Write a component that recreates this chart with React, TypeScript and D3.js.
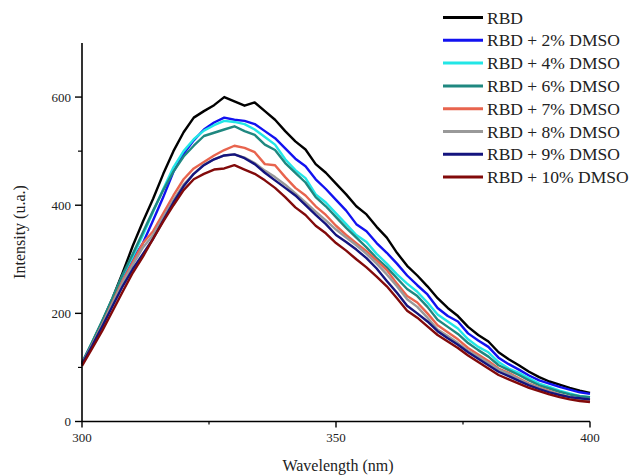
import React from "react";
import * as d3 from "d3";

const wavelengths: number[] = d3.range(300, 401, 2);

const seriesNames: string[] = [
  "RBD",
  "RBD + 2% DMSO",
  "RBD + 4% DMSO",
  "RBD + 6% DMSO",
  "RBD + 7% DMSO",
  "RBD + 8% DMSO",
  "RBD + 9% DMSO",
  "RBD + 10% DMSO",
];

const rbd: number[] = [108,145,185,228,275,325,370,412,458,500,535,562,574,585,600,592,584,590,574,558,537,518,503,476,460,440,420,398,383,360,340,312,288,270,250,228,210,195,175,160,148,128,115,104,92,82,74,68,62,57,53];
const dmso2: number[] = [108,145,183,224,268,300,330,372,415,462,495,520,540,553,562,558,556,550,537,524,505,486,472,448,430,410,390,365,352,330,312,292,270,252,235,210,195,185,163,150,138,118,106,96,85,76,70,64,59,54,51];
const dmso4: number[] = [108,146,185,227,270,305,345,388,430,470,500,522,538,548,556,554,550,540,526,512,485,465,450,420,405,385,365,345,332,310,292,272,255,240,220,198,185,172,152,138,128,110,98,90,80,70,64,57,52,47,45];
const dmso6: number[] = [108,147,187,228,272,310,350,390,428,462,490,510,528,534,540,546,537,530,512,502,478,460,442,415,398,378,358,340,322,302,285,265,245,232,212,188,175,162,145,132,120,104,95,86,76,67,61,55,50,47,45];
const dmso7: number[] = [106,142,180,220,260,295,330,352,385,418,448,468,480,492,502,510,506,498,476,474,452,432,418,398,382,362,345,330,315,298,280,255,232,220,200,178,165,152,136,124,112,98,90,80,70,63,56,50,45,41,39];
const dmso8: number[] = [106,142,179,218,256,290,322,345,378,410,438,458,475,485,492,494,488,478,464,452,438,422,405,388,372,355,340,326,310,292,272,250,226,212,192,170,158,145,131,120,108,96,88,78,69,62,55,50,45,42,40];
const dmso9: number[] = [106,140,176,213,250,282,310,338,372,405,435,458,474,485,492,494,487,476,460,446,432,418,400,382,365,345,332,318,302,283,260,238,214,200,185,167,154,142,128,116,104,92,84,75,67,60,54,49,45,43,41];
const dmso10: number[] = [103,135,168,204,240,275,305,338,370,400,428,448,458,466,468,474,466,458,446,432,415,396,382,362,348,330,316,300,285,268,250,228,205,192,176,160,148,136,122,110,98,86,78,70,62,56,50,45,41,38,36];

const allSeries: number[][] = [rbd, dmso2, dmso4, dmso6, dmso7, dmso8, dmso9, dmso10];
const colors: string[] = ["#000000", "#1212f0", "#22e6e6", "#1f8880", "#e8644e", "#999999", "#14147e", "#820a0a"];

const xTicks: number[] = [300, 350, 400];
const xMinor: number[] = [325, 375];
const yTicks: number[] = [0, 200, 400, 600];
const yMinor: number[] = [100, 300, 500];

const W = 633;
const H = 476;
const FONT = "'Liberation Serif', 'DejaVu Serif', serif";

export default function App() {
  const x = d3.scaleLinear().domain([300, 400]).range([82, 590]);
  const y = d3.scaleLinear().domain([0, 700]).range([421.5, 43]);

  const line = d3
    .line<number>()
    .x((_, i) => x(wavelengths[i]))
    .y((d) => y(d))
    .curve(d3.curveLinear);

  const legendY = (i: number) => 17.5 + i * 22.8;

  return (
    <svg
      width={W}
      height={H}
      style={{ position: "absolute", left: 0, top: 0, background: "#fff" }}
      fontFamily={FONT}
    >
      {/* lines */}
      {allSeries.map((s, k) => (
        <path
          key={k}
          d={line(s) || ""}
          fill="none"
          stroke={colors[k]}
          strokeWidth={2.4}
          strokeLinejoin="round"
        />
      ))}

      {/* axes */}
      <line x1={x(300)} x2={x(400)} y1={y(0)} y2={y(0)} stroke="#000" strokeWidth={1.6} />
      <line x1={x(300)} x2={x(300)} y1={y(0)} y2={y(700)} stroke="#000" strokeWidth={1.6} />

      {xTicks.map((t) => (
        <g key={"xt" + t}>
          <line x1={x(t)} x2={x(t)} y1={y(0)} y2={y(0) + 6} stroke="#000" strokeWidth={1.4} />
          <text x={x(t)} y={y(0) + 20} textAnchor="middle" fontSize={13} fill="#222">
            {t}
          </text>
        </g>
      ))}
      {xMinor.map((t) => (
        <line key={"xm" + t} x1={x(t)} x2={x(t)} y1={y(0)} y2={y(0) + 3} stroke="#000" strokeWidth={1.2} />
      ))}
      {yTicks.map((t) => (
        <g key={"yt" + t}>
          <line x1={x(300) - 7} x2={x(300)} y1={y(t)} y2={y(t)} stroke="#000" strokeWidth={1.4} />
          <text x={x(300) - 11} y={y(t)} dy="0.35em" textAnchor="end" fontSize={13} fill="#222">
            {t}
          </text>
        </g>
      ))}
      {yMinor.map((t) => (
        <line key={"ym" + t} x1={x(300) - 4} x2={x(300)} y1={y(t)} y2={y(t)} stroke="#000" strokeWidth={1.2} />
      ))}

      <text x={338} y={471} textAnchor="middle" fontSize={16} fill="#222">
        Wavelength (nm)
      </text>
      <text
        transform={`translate(25, 232) rotate(-90)`}
        textAnchor="middle"
        fontSize={16}
        fill="#222"
      >
        Intensity (u.a.)
      </text>

      {/* legend */}
      {seriesNames.map((n, i) => (
        <g key={"lg" + i}>
          <line x1={443} x2={483} y1={legendY(i)} y2={legendY(i)} stroke={colors[i]} strokeWidth={3} />
          <text x={487} y={legendY(i)} dy="0.35em" fontSize={17.5} fill="#222">
            {n}
          </text>
        </g>
      ))}
    </svg>
  );
}
